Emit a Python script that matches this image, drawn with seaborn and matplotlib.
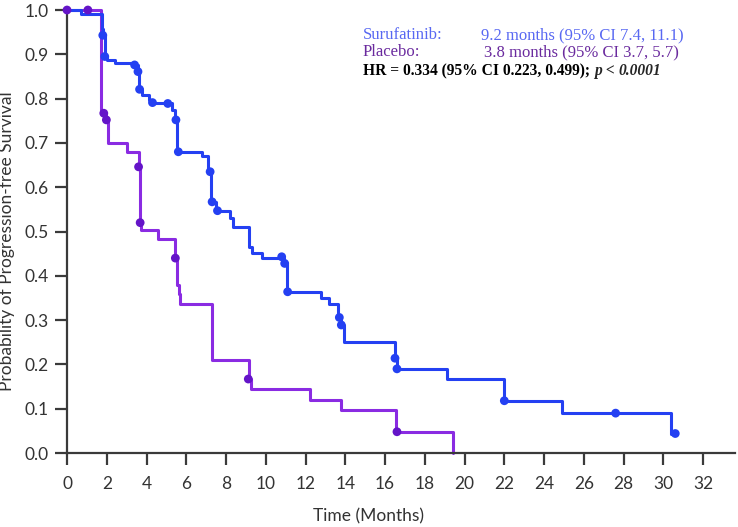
import numpy as np
import pandas as pd
import seaborn as sns
from matplotlib import pyplot as plt

sns.set_style("ticks")
plt.rcParams['font.family'] = ['Lato', 'DejaVu Sans']

# step curves: time of drop, survival after the drop
suru_t = [0, 0.72, 1.75, 1.8, 1.9, 2.0, 2.4, 3.35, 3.55, 3.62, 3.75, 4.1, 4.3, 5.3, 5.45, 5.55,
          6.8, 7.1, 7.25, 7.5, 8.2, 8.35, 9.15, 9.3, 9.8, 10.9, 11.05, 12.8, 13.2, 13.65, 13.8,
          13.95, 16.5, 16.6, 19.1, 22.0, 24.9, 30.4, 30.6]
suru_s = [1.0, 0.990, 0.957, 0.943, 0.895, 0.887, 0.880, 0.876, 0.861, 0.821, 0.808, 0.797, 0.789, 0.774, 0.752, 0.680,
          0.670, 0.635, 0.567, 0.547, 0.530, 0.511, 0.466, 0.451, 0.440, 0.428, 0.364, 0.351, 0.336, 0.306, 0.289,
          0.251, 0.214, 0.190, 0.166, 0.118, 0.090, 0.044, 0.044]
suru_cens_t = [1.8, 1.9, 3.4, 3.57, 3.65, 4.3, 5.07, 5.48, 5.6, 7.2, 7.3, 7.57, 10.8, 10.95, 11.1,
               13.7, 13.8, 16.5, 16.6, 22.0, 27.6, 30.6]
suru_cens_s = [0.943, 0.895, 0.876, 0.861, 0.821, 0.791, 0.789, 0.752, 0.680, 0.635, 0.567, 0.547, 0.443, 0.428, 0.364,
               0.306, 0.289, 0.214, 0.190, 0.118, 0.090, 0.044]

plac_t = [0, 1.73, 1.95, 2.05, 3.0, 3.6, 3.68, 3.73, 4.57, 5.45, 5.55, 5.62, 5.7, 7.3, 9.15, 9.25,
          12.2, 13.8, 16.55, 19.4]
plac_s = [1.0, 0.767, 0.752, 0.699, 0.680, 0.646, 0.520, 0.503, 0.482, 0.440, 0.379, 0.360, 0.336, 0.210, 0.167, 0.144,
          0.120, 0.096, 0.048, 0.0]
plac_cens_t = [0, 1.05, 1.85, 1.98, 3.6, 3.68, 5.45, 9.12, 16.6]
plac_cens_s = [1.0, 1.0, 0.767, 0.752, 0.646, 0.520, 0.440, 0.167, 0.048]

blue = "#2440f2"
purple = "#8a2be2"
purple_dot = "#6414c8"

fig = plt.figure(figsize=(7.38, 5.27), dpi=100)
ax = fig.add_axes([0.0908, 0.1404, 0.905, 0.8406])

df_s = pd.DataFrame({"t": suru_t, "s": suru_s})
df_p = pd.DataFrame({"t": plac_t, "s": plac_s})
sns.lineplot(data=df_p, x="t", y="s", ax=ax, color=purple, lw=2.2, drawstyle="steps-post",
             estimator=None, sort=False, clip_on=False)
sns.lineplot(data=df_s, x="t", y="s", ax=ax, color=blue, lw=2.2, drawstyle="steps-post",
             estimator=None, sort=False, clip_on=False)
sns.scatterplot(x=suru_cens_t, y=suru_cens_s, ax=ax, color=blue, s=40, edgecolor="none",
                clip_on=False, zorder=5)
sns.scatterplot(x=plac_cens_t, y=plac_cens_s, ax=ax, color=purple_dot, s=40, edgecolor="none",
                clip_on=False, zorder=5)

ax.set_xlim(0, 33.6)
ax.set_ylim(0, 1.0)
ax.set_xticks(np.arange(0, 33, 2))
ax.set_yticks(np.arange(0, 1.01, 0.1))
ax.set_yticklabels([f"{v:.1f}" for v in np.arange(0, 1.01, 0.1)])
sns.despine(ax=ax)
for sp in ["left", "bottom"]:
    ax.spines[sp].set_linewidth(1.6)
    ax.spines[sp].set_color("#3a3a3a")
ax.tick_params(axis="both", length=8.5, width=1.6, color="#3a3a3a", labelsize=12.5, labelcolor="#333333")
ax.tick_params(axis="x", pad=8)
ax.tick_params(axis="y", pad=5)

ax.set_xlabel("Time (Months)", fontsize=12.5, color="#333333")
ax.set_ylabel("Probability of Progression-free Survival", fontsize=12.5, color="#333333")
ax.xaxis.set_label_coords(0.452, -0.125)
ax.yaxis.set_label_coords(-0.078, 0.478)

serif = ["Liberation Serif", "DejaVu Serif"]
fs = 12
fig.text(363 / 738, 1 - 35 / 527, "Surufatinib:", color="#5868f2", fontsize=fs, family=serif, va="center")
fig.text(481 / 738, 1 - 35 / 527, "9.2 months (95% CI 7.4, 11.1)", color="#5868f2", fontsize=fs,
         family=serif, va="center")
fig.text(363 / 738, 1 - 52 / 527, "Placebo:", color="#6a2a9e", fontsize=fs, family=serif, va="center")
fig.text(484 / 738, 1 - 52 / 527, "3.8 months (95% CI 3.7, 5.7)", color="#6a2a9e", fontsize=fs,
         family=serif, va="center")
fb = 11.2
t1 = fig.text(363 / 738, 1 - 75 / 527, "HR = 0.334 (95% CI 0.223, 0.499); ", color="black", fontsize=fb,
              family=serif, weight="bold", va="baseline")
t2 = ax.annotate("p", xycoords=t1, xy=(1, 0), va="bottom", ha="left", fontsize=fb, family=serif,
                 weight="bold", style="italic")
t3 = ax.annotate(" < ", xycoords=t2, xy=(1, 0), va="bottom", ha="left", fontsize=fb, family=serif,
                 weight="bold")
ax.annotate("0.0001", xycoords=t3, xy=(1, 0), va="bottom", ha="left", fontsize=fb, family=serif,
            weight="bold", style="italic")

fig.savefig("out.png", dpi=100)
